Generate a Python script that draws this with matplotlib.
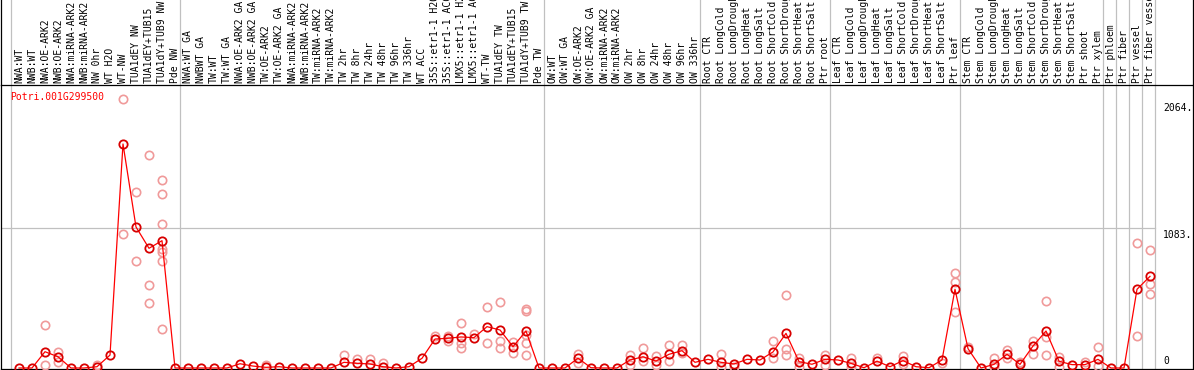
"""Expression profile of Potri.001G299500 across the poplar sample panel."""

import matplotlib

matplotlib.use("Agg")
import matplotlib.pyplot as plt  # noqa: E402

GENE = "Potri.001G299500"

labels = [
    # group 1
    "NWA:WT", "NWB:WT", "NWA:OE-ARK2", "NWB:OE-ARK2", "NWA:miRNA-ARK2",
    "NWB:miRNA-ARK2", "NW 0hr", "WT H2O", "WT-NW", "TUA1dEY NW",
    "TUA1dEY+TUB15", "TUA1dY+TUB9 NW", "Pde NW",
    # group 2
    "NWA:WT GA", "NWBWT GA", "TW:WT", "TW:WT GA", "NWA:OE-ARK2 GA",
    "NWB:OE-ARK2 GA", "TW:OE-ARK2", "TW:OE-ARK2 GA", "NWA:miRNA-ARK2",
    "NWB:miRNA-ARK2", "TW:miRNA-ARK2", "TW:miRNA-ARK2", "TW 2hr", "TW 8hr",
    "TW 24hr", "TW 48hr", "TW 96hr", "TW 336hr", "WT ACC", "35S::etr1-1 H2O",
    "35S::etr1-1 ACC", "LMX5::etr1-1 H2O", "LMX5::etr1-1 ACC", "WT-TW",
    "TUA1dEY TW", "TUA1dEY+TUB15", "TUA1dY+TUB9 TW", "Pde TW",
    # group 3
    "OW:WT", "OW:WT GA", "OW:OE-ARK2", "OW:OE-ARK2 GA", "OW:miRNA-ARK2",
    "OW:miRNA-ARK2", "OW 2hr", "OW 8hr", "OW 24hr", "OW 48hr", "OW 96hr",
    "OW 336hr",
    # root
    "Root CTR", "Root LongCold", "Root LongDrought", "Root LongHeat",
    "Root LongSalt", "Root ShortCold", "Root ShortDrought", "Root ShortHeat",
    "Root ShortSalt", "Ptr root",
    # leaf
    "Leaf CTR", "Leaf LongCold", "Leaf LongDrought", "Leaf LongHeat",
    "Leaf LongSalt", "Leaf ShortCold", "Leaf ShortDrought", "Leaf ShortHeat",
    "Leaf ShortSalt", "Ptr leaf",
    # stem
    "Stem CTR", "Stem LongCold", "Stem LongDrought", "Stem LongHeat",
    "Stem LongSalt", "Stem ShortCold", "Stem ShortDrought", "Stem ShortHeat",
    "Stem ShortSalt", "Ptr shoot", "Ptr xylem",
    # cell types
    "Ptr phloem", "Ptr fiber", "Ptr vessel", "Ptr fiber vessel",
]

means = [
    0, 0, 126, 87, 0, 0, 10, 100, 1733, 1091, 926, 985, 0,
    0, 0, 0, 0, 33, 15, 5, 10, 0, 0, 0, 0, 44, 36, 31, 10, 0, 10, 75,
    224, 230, 240, 235, 320, 294, 165, 286, 0,
    0, 0, 76, 2, 0, 0, 62, 87, 54, 106, 134, 44,
    67, 44, 31, 67, 62, 124, 268, 49, 29, 67,
    62, 36, 2, 53, 10, 57, 10, 2, 62, 609,
    150, 0, 28, 106, 28, 170, 286, 52, 26, 26, 67,
    0, 0, 609, 709,
]

# single replicates visible apart from the mean (column index -> values)
replicates = {
    2: [333, 23], 3: [126, 49], 6: [23],
    8: [2081, 1037], 9: [1359, 825], 10: [1645, 642, 503],
    11: [1452, 1344, 1111, 918, 895, 825, 302],
    19: [23], 25: [100], 26: [70], 27: [72], 28: [36],
    32: [250], 33: [250, 211], 34: [346, 191, 152], 35: [260],
    36: [469, 191], 37: [508, 211, 152], 38: [203, 114],
    39: [454, 443, 255, 196, 100],
    43: [108, 41], 47: [100, 23], 48: [152, 54], 49: [93, 23],
    50: [175, 54], 51: [178, 114], 54: [108, 5], 55: [5],
    58: [209, 75], 59: [562, 147, 98], 60: [75, 10], 62: [100, 23],
    64: [75, 5], 66: [77], 68: [95, 31], 71: [36],
    72: [732, 663, 431], 73: [165], 75: [77, 5], 76: [139, 77], 77: [46],
    78: [211, 108], 79: [516, 242, 98], 80: [87, 5], 82: [44],
    83: [162, 18], 86: [965, 248], 87: [911, 648, 570],
}

group_ends = [-1, 12, 40, 52, 62, 72, 83, 84, 85, 86, 87]
ytick_values = [0, 1083, 2064]
ytick_labels = ["0", "1083.", "2064."]
grid_values = [1083]

# pixel layout of the original applet
W, H = 1194, 370
COL0, STEP = 19, 13          # centre of first column, column pitch
BOX_L, BOX_R, BOX_T, BOX_B = 1, 1193, 85, 369
ZERO_PX = 368
PPU = 140 / 1083             # pixels per expression unit

MONO = "DejaVu Sans Mono"
GRID = "#c0c0c0"

fig = plt.figure(figsize=(W / 100, H / 100), dpi=100)
ax = fig.add_axes([BOX_L / W, (H - BOX_B) / H, (BOX_R - BOX_L) / W, (BOX_B - BOX_T) / H])
xlim = ((BOX_L - COL0) / STEP, (BOX_R - COL0) / STEP)
ylim = ((ZERO_PX - BOX_B) / PPU, (ZERO_PX - BOX_T) / PPU)
ax.set_xlim(*xlim)
ax.set_ylim(*ylim)
ax.set_xticks([])
ax.set_yticks([])
for sp in ax.spines.values():
    sp.set_linewidth(0.9)
    sp.set_color("black")

top_frac = BOX_B / (BOX_B - BOX_T)   # top edge of image in axes fraction

# outer borders run up through the label strip
for xb in xlim:
    ax.axvline(xb, ymin=1, ymax=top_frac, color="black", lw=0.9, clip_on=False)

# group separators
for b in group_ends:
    ax.axvline(b + 0.4, ymin=0, ymax=top_frac, color=GRID, lw=0.9, clip_on=False)

grid_right = (group_ends[-1] + 0.4 - xlim[0]) / (xlim[1] - xlim[0])
for g in grid_values:
    ax.axhline(g, xmin=0, xmax=grid_right, color=GRID, lw=0.9)

# sample labels, rotated, sitting on the top frame
label_y = (BOX_B - 83) / (BOX_B - BOX_T)
trans = ax.get_xaxis_transform()
for i, lab in enumerate(labels):
    ax.text(i, label_y, lab, rotation=90, ha="center", va="bottom",
            family=MONO, fontsize=7, transform=trans, clip_on=False)

# replicates
rx = [i for i, vals in replicates.items() for _ in vals]
ry = [v for vals in replicates.values() for v in vals]
ax.plot(rx, ry, "o", ms=6, mfc="none", mec="#f09a9a", mew=1.2, clip_on=False, zorder=3)

# mean profile
xs = list(range(len(means)))
ax.plot(xs, means, "-", color="red", lw=0.9, clip_on=False, zorder=4)
ax.plot(xs, means, "o", ms=6, mfc="none", mec="#d80000", mew=1.3, clip_on=False, zorder=5)

# value labels on the right
for v, t in zip(ytick_values, ytick_labels):
    if v == 0:
        ax.annotate(t, (len(labels), v), xytext=(0, 1.5), textcoords="offset points",
                    ha="left", va="bottom", family=MONO, fontsize=7)
    else:
        ax.annotate(t, (len(labels), v), xytext=(0, -1.5), textcoords="offset points",
                    ha="left", va="top", family=MONO, fontsize=7)

fig.text(10 / W, 1 - 97 / H, GENE, color="red", family=MONO, fontsize=7,
         ha="left", va="center")

fig.savefig("out.png", dpi=100)
